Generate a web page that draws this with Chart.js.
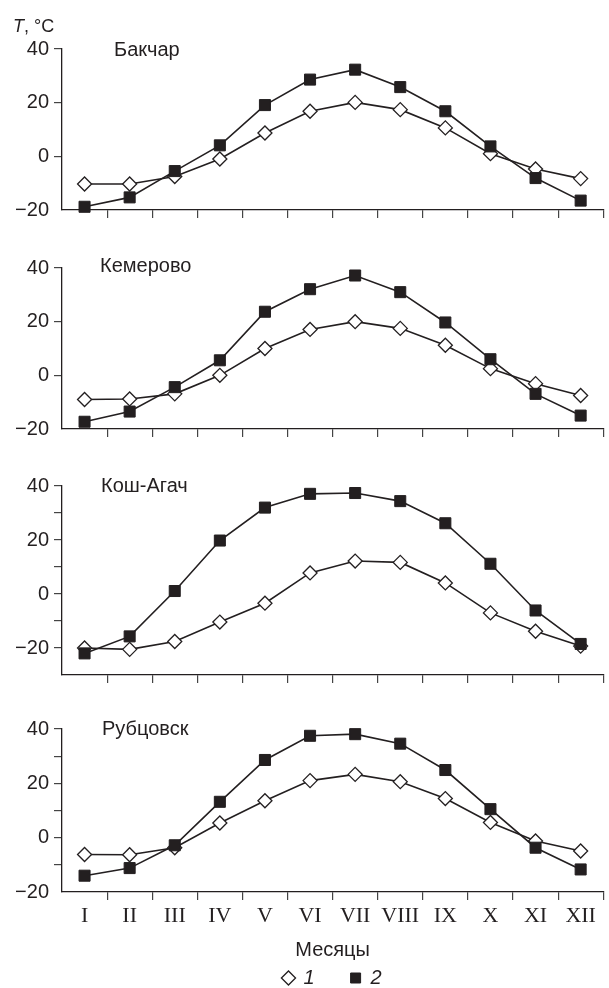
<!DOCTYPE html>
<html>
<head>
<meta charset="utf-8">
<script src="https://cdn.jsdelivr.net/npm/chart.js@4"></script>
<style>
html, body { margin: 0; padding: 0; background: #fff; }
#page { position: relative; width: 609px; height: 988px; overflow: hidden; }
canvas { position: absolute; left: 0; }
.lbl { position: absolute; font: 20px/20px "Liberation Sans", Arial, sans-serif; color: #231f20; white-space: nowrap; }
</style>
</head>
<body>
<div id="page">
  <canvas id="c1" width="612" height="230" style="top:0px"></canvas>
  <canvas id="c2" width="612" height="219" style="top:230px"></canvas>
  <canvas id="c3" width="612" height="246" style="top:449px"></canvas>
  <canvas id="c4" width="612" height="303" style="top:695px"></canvas>

  <div class="lbl" style="left:13px;top:17px;font-size:18px;line-height:18px"><i>T</i>, °C</div>
  <div class="lbl" id="n1" style="left:114px;top:39px"></div>
  <div class="lbl" id="n2" style="left:100px;top:255px"></div>
  <div class="lbl" id="n3" style="left:101px;top:475px"></div>
  <div class="lbl" id="n4" style="left:102px;top:718px"></div>
</div>

<script>
// ---------- Data ----------
const months = ["I", "II", "III", "IV", "V", "VI", "VII", "VIII", "IX", "X", "XI", "XII"];
const yLabeled = [-20, 0, 20, 40];          // only these get a number, the rest are minor ticks
const seriesNames = ["1", "2"];
const stations = ["Бакчар", "Кемерово", "Кош-Агач", "Рубцовск"];

const bakchar1 = [-10.3, -10.3, -7.5, -1, 8.7, 16.8, 20.1, 17.4, 10.6, 1, -4.7, -8.3];
const bakchar2 = [-18.8, -15.3, -5.5, 4.1, 19.1, 28.6, 32.3, 25.8, 16.8, 3.7, -8.1, -16.5];

const kemerovo1 = [-9, -8.8, -6.9, 0, 10, 17.1, 20, 17.5, 11.2, 2.5, -3.1, -7.5];
const kemerovo2 = [-17.3, -13.5, -4.4, 5.6, 23.7, 32.1, 37.2, 31, 19.7, 6, -6.9, -15];

const koshagach1 = [-20, -20.5, -17.6, -10.4, -3.4, 7.8, 12.2, 11.7, 4.1, -7, -13.8, -19.3];
const koshagach2 = [-22, -15.7, 1.1, 19.8, 32, 37.1, 37.4, 34.4, 26.2, 11.2, -6.1, -18.5];

const rubtsovsk1 = [-6.2, -6.3, -3.7, 5.4, 13.6, 21, 23.3, 20.6, 14.4, 5.6, -1.2, -4.9];
const rubtsovsk2 = [-14, -11.2, -2.8, 13.2, 28.6, 37.5, 38.1, 34.6, 24.9, 10.5, -3.7, -11.7];

// ---------- Style ----------
const INK = "#231f20";
const SANS = '"Liberation Sans", Arial, sans-serif';
const SERIF = '"Liberation Serif", "Times New Roman", serif';
const fmtY = v => yLabeled.includes(v) ? (v < 0 ? "\u2212" + Math.abs(v) : String(v)) : "";

function makeChart(id, s1, s2, o) {
    const last = !!o.last;
    return new Chart(document.getElementById(id), {
        type: "line",
        data: {
            labels: months,
            datasets: [
                { label: seriesNames[0], data: s1, borderColor: INK, borderWidth: 1.6,
                  pointStyle: "rectRot", pointRadius: 7, pointBackgroundColor: "#fff",
                  pointBorderColor: INK, pointBorderWidth: 1.3, order: 1, clip: false },
                { label: seriesNames[1], data: s2, borderColor: INK, borderWidth: 1.6,
                  pointStyle: "rect", pointRadius: 7.8, pointBackgroundColor: INK,
                  pointBorderColor: INK, pointBorderWidth: 1, order: 0, clip: false }
            ]
        },
        options: {
            responsive: false,
            animation: false,
            layout: { padding: { top: o.padTop, left: 0, right: 0, bottom: 0 } },
            plugins: {
                tooltip: { enabled: false },
                legend: last ? {
                    display: true, position: "bottom", fullSize: false, align: "center",
                    labels: {
                        usePointStyle: true, boxWidth: 10, boxHeight: 10, padding: 6, color: INK,
                        font: { family: SANS, size: 20, style: "italic" },
                        // spread the two items apart like in the print
                        generateLabels: ch => Chart.defaults.plugins.legend.labels.generateLabels(ch)
                            .map(l => ({ ...l, text: l.datasetIndex === 0 ? l.text + "\u2003\u2002" : l.text })),
                        sort: (a, b) => a.datasetIndex - b.datasetIndex
                    }
                } : { display: false }
            },
            scales: {
                x: {
                    type: "category",
                    offset: true,
                    grid: { offset: true, drawOnChartArea: false, drawTicks: true, tickLength: 8, lineWidth: 1.2,
                            color: c => c.index === 0 ? "rgba(0,0,0,0)" : "#444" },
                    border: { display: true, color: INK, width: 1.3 },
                    ticks: { display: last, autoSkip: false, maxRotation: 0, color: INK, padding: 3,
                             font: { family: SERIF, size: 22 } },
                    title: { display: last, text: "Месяцы", color: INK, padding: { top: 0, bottom: 0 },
                             font: { family: SANS, size: 20 } },
                    afterFit: s => { s.height = o.xH; }
                },
                y: {
                    min: o.yMin, max: 40,
                    grid: { drawOnChartArea: false, drawTicks: true, tickLength: 8, lineWidth: 1.2,
                            color: c => (c.tick && c.tick.value === o.yMin) ? "rgba(0,0,0,0)" : "#444" },
                    border: { display: true, color: INK, width: 1.3 },
                    ticks: { stepSize: 10, padding: 5, color: INK, font: { family: SANS, size: 20 }, callback: fmtY },
                    afterFit: s => { s.width = 62; }
                }
            }
        }
    });
}

// ---------- Build ----------
stations.forEach((name, i) => { document.getElementById("n" + (i + 1)).textContent = name; });

makeChart("c1", bakchar1, bakchar2, { padTop: 49, yMin: -20, xH: 20 });
makeChart("c2", kemerovo1, kemerovo2, { padTop: 38, yMin: -20, xH: 20 });
makeChart("c3", koshagach1, koshagach2, { padTop: 37, yMin: -30, xH: 20 });
makeChart("c4", rubtsovsk1, rubtsovsk2, { padTop: 34, yMin: -20, xH: 70, last: true });
</script>
</body>
</html>
